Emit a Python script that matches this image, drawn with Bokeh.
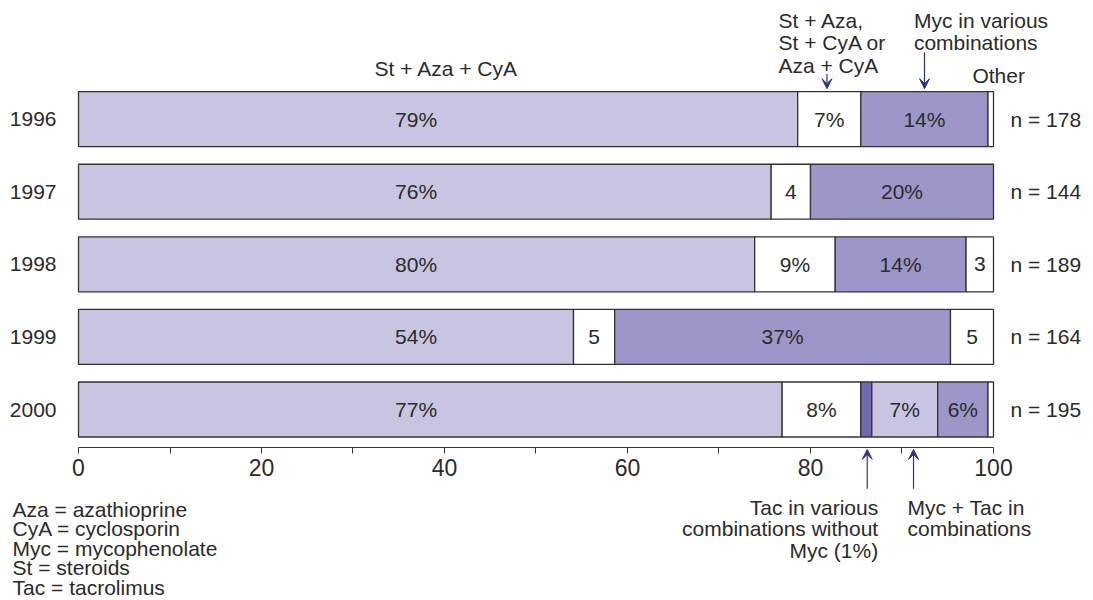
from bokeh.plotting import figure
from bokeh.models import ColumnDataSource, Range1d, FixedTicker, Label, Arrow, VeeHead
from bokeh.core.properties import value
from bokeh.embed import file_html
from bokeh.resources import INLINE

# ---------------- data ----------------
years = ["1996", "1997", "1998", "1999", "2000"]
n_values = [178, 144, 189, 164, 195]

triple = [78.6, 75.7, 73.9, 54.1, 76.9]        # St + Aza + CyA
dual = [6.9, 4.3, 8.8, 4.5, 8.6]               # St + Aza, St + CyA or Aza + CyA
tac = [0.0, 0.0, 0.0, 0.0, 1.2]                # Tac without Myc
myc_tac = [0.0, 0.0, 0.0, 0.0, 7.2]            # Myc + Tac
myc = [13.9, 20.0, 14.3, 36.7, 5.5]            # Myc in various combinations
other = [0.6, 0.0, 3.0, 4.7, 0.6]              # Other

triple_labels = ["79%", "76%", "80%", "54%", "77%"]
dual_labels = ["7%", "4", "9%", "5", "8%"]
tac_labels = ["", "", "", "", ""]
myc_tac_labels = ["", "", "", "", "7%"]
myc_labels = ["14%", "20%", "14%", "37%", "6%"]
other_labels = ["", "", "3", "5", ""]

x_ticks = [0, 10, 20, 30, 40, 50, 60, 70, 80, 90, 100]
x_tick_labels = ["0", "", "20", "", "40", "", "60", "", "80", "", "100"]

abbreviations = ["Aza = azathioprine", "CyA = cyclosporin", "Myc = mycophenolate",
                 "St = steroids", "Tac = tacrolimus"]

# ---------------- styling ----------------
FONT = "Liberation Sans"
TXT = "#2b2b2b"
LIGHT = "#c8c5e2"
MID = "#9c97c8"
DARK = "#6f6ab1"
WHITE = "#ffffff"
ARROW = "#2e3192"
FS = "21px"

series = [
    (triple, triple_labels, LIGHT, True),
    (dual, dual_labels, WHITE, False),
    (tac, tac_labels, DARK, False),
    (myc_tac, myc_tac_labels, LIGHT, False),
    (myc, myc_labels, MID, False),
    (other, other_labels, WHITE, False),
]
FIRST_LABEL_X = 36.9

ypos = [len(years) - 1 - i for i in range(len(years))]

bars = dict(x0=[], x1=[], y=[], color=[])
labs = dict(x=[], y=[], text=[])
left = [0.0] * len(years)
for vals, texts, col, first in series:
    for i in range(len(years)):
        v = vals[i]
        if v > 0:
            bars["x0"].append(left[i])
            bars["x1"].append(left[i] + v)
            bars["y"].append(ypos[i])
            bars["color"].append(col)
            if texts[i]:
                labs["x"].append(FIRST_LABEL_X if first else left[i] + v / 2)
                labs["y"].append(ypos[i])
                labs["text"].append(texts[i])
        left[i] += v

p = figure(width=1093, height=600, output_backend="svg", toolbar_location=None,
           x_range=Range1d(-8.525, 110.93), y_range=Range1d(-2.631, 5.634),
           y_axis_location=None, min_border_left=0, min_border_right=0,
           min_border_top=0, min_border_bottom=0)
p.outline_line_color = None
p.xgrid.visible = False
p.ygrid.visible = False
p.background_fill_color = "white"
p.border_fill_color = "white"

p.hbar(y="y", left="x0", right="x1", height=0.757, fill_color="color",
       line_color="#333333", line_width=1.3, source=ColumnDataSource(bars))

p.text(x="x", y="y", text="text", source=ColumnDataSource(labs),
       text_font=value(FONT), text_font_size=FS, text_color=TXT,
       text_align="center", text_baseline="middle")

p.text(x=[0] * len(years), y=ypos, text=years, x_offset=-22,
       text_font=value(FONT), text_font_size=FS, text_color=TXT,
       text_align="right", text_baseline="middle")

p.text(x=[100] * len(years), y=ypos, text=["n = %d" % n for n in n_values], x_offset=17,
       text_font=value(FONT), text_font_size=FS, text_color=TXT,
       text_align="left", text_baseline="middle")

ax = p.xaxis[0]
ax.fixed_location = -0.523
ax.ticker = FixedTicker(ticks=x_ticks, minor_ticks=[])
ax.major_label_overrides = {t: s for t, s in zip(x_ticks, x_tick_labels)}
ax.bounds = (0, 100)
ax.axis_line_color = "#333333"
ax.major_tick_line_color = "#333333"
ax.major_tick_out = 6
ax.major_tick_in = 0
ax.minor_tick_line_color = None
ax.major_label_text_font = FONT
ax.major_label_text_font_size = "23px"
ax.major_label_text_color = TXT
ax.major_label_standoff = 6


def lab(x, y, t, align="left"):
    p.add_layout(Label(x=x, y=y, text=t, text_font=FONT, text_font_size=FS,
                       text_color=TXT, text_align=align, text_baseline="middle"))


def arrow(x, y0, y1):
    p.add_layout(Arrow(x_start=x, y_start=y0, x_end=x, y_end=y1,
                       line_color=ARROW, line_width=1.2,
                       end=VeeHead(size=10, fill_color=ARROW, line_color=ARROW, line_width=1)))


# top annotations
lab(40.2, 4.697, "St + Aza + CyA", "center")
for t, yy in zip(["St + Aza,", "St + CyA or", "Aza + CyA"], [5.358, 5.05, 4.74]):
    lab(76.5, yy, t)
arrow(81.8, 4.62, 4.42)
for t, yy in zip(["Myc in various", "combinations"], [5.358, 5.055]):
    lab(91.3, yy, t)
arrow(92.46, 4.92, 4.42)
lab(97.7, 4.6, "Other")

# bottom annotations
for t, yy in zip(["Tac in various", "combinations without", "Myc (1%)"], [-1.35, -1.639, -1.942]):
    lab(87.4, yy, t, "right")
arrow(86.2, -1.09, -0.55)
for t, yy in zip(["Myc + Tac in", "combinations"], [-1.35, -1.639]):
    lab(90.6, yy, t)
arrow(91.26, -1.09, -0.55)

for i, t in enumerate(abbreviations):
    lab(-7.21, -1.377 - i * 0.268, t)

open("out.html", "w").write(file_html(p, INLINE))
